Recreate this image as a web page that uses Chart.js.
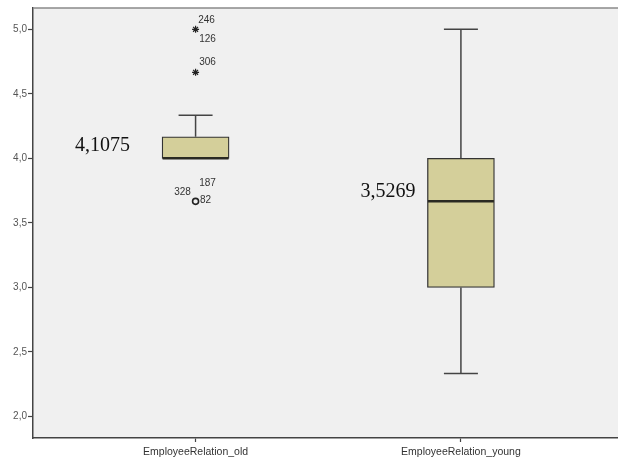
<!DOCTYPE html>
<html>
<head>
<meta charset="utf-8">
<script src="https://cdn.jsdelivr.net/npm/chart.js@4/dist/chart.umd.min.js"></script>
<style>
  html, body { margin: 0; padding: 0; background: #ffffff; }
  canvas { display: block; }
</style>
</head>
<body>
<canvas id="c" width="618" height="461"></canvas>
<script>
// Box plot summary per group
const categories   = ['EmployeeRelation_old', 'EmployeeRelation_young'];
const whiskerLow   = [4.0, 2.3333];
const q1           = [4.0, 3.0];
const median       = [4.0, 3.6667];
const q3           = [4.1667, 4.0];
const whiskerHigh  = [4.3333, 5.0];
const means        = [4.1075, 3.5269];

// Extreme values (stars) and outliers (circles) with their case numbers
const extremeCats   = [0, 0];
const extremeValues = [5.0, 4.6667];
const extremeIds    = [['246', '126'], ['306']];
const outlierCats   = [0];
const outlierValues = [3.6667];
const outlierIds    = [['187', '328', '82']];

const yTicks = [2.0, 2.5, 3.0, 3.5, 4.0, 4.5, 5.0];

const fmt = (v, d) => v.toFixed(d).replace('.', ',');

// Where the case numbers sit around their marker (pixels)
const idOffsets = {
  '246': [11, -9.5], '126': [12, 10], '306': [12, -10],
  '187': [12, -18], '328': [-13, -9], '82': [10, -1]
};
// Where the mean labels sit relative to (category, mean)
const meanOffsets = [[-93, 1], [-73, -28]];

const boxPlugin = {
  id: 'boxParts',
  beforeDraw(chart) {
    const { ctx, chartArea: a } = chart;
    ctx.save();
    ctx.fillStyle = '#ffffff';
    ctx.fillRect(0, 0, chart.width, chart.height);
    ctx.fillStyle = '#f0f0f0';
    ctx.fillRect(a.left, a.top, a.right - a.left, a.bottom - a.top);
    ctx.restore();
  },
  afterDatasetsDraw(chart) {
    const { ctx } = chart;
    const xs = chart.scales.x, ys = chart.scales.y;
    ctx.save();
    categories.forEach((c, i) => {
      const x = xs.getPixelForValue(i + 1);
      const cap = 17;
      ctx.strokeStyle = '#444444';
      ctx.lineWidth = 1.5;
      ctx.beginPath();
      // upper whisker + cap
      if (whiskerHigh[i] > q3[i]) {
        ctx.moveTo(x, ys.getPixelForValue(q3[i]));
        ctx.lineTo(x, ys.getPixelForValue(whiskerHigh[i]));
      }
      ctx.moveTo(x - cap, ys.getPixelForValue(whiskerHigh[i]));
      ctx.lineTo(x + cap, ys.getPixelForValue(whiskerHigh[i]));
      // lower whisker + cap
      if (whiskerLow[i] < q1[i]) {
        ctx.moveTo(x, ys.getPixelForValue(q1[i]));
        ctx.lineTo(x, ys.getPixelForValue(whiskerLow[i]));
        ctx.moveTo(x - cap, ys.getPixelForValue(whiskerLow[i]));
        ctx.lineTo(x + cap, ys.getPixelForValue(whiskerLow[i]));
      }
      ctx.stroke();
      // median
      ctx.strokeStyle = '#2a2a22';
      ctx.lineWidth = 2.5;
      ctx.beginPath();
      ctx.moveTo(x - 33, ys.getPixelForValue(median[i]));
      ctx.lineTo(x + 33, ys.getPixelForValue(median[i]));
      ctx.stroke();
      // mean label
      ctx.fillStyle = '#111111';
      ctx.font = '20px "Liberation Serif", "Times New Roman", serif';
      ctx.textAlign = 'center';
      ctx.textBaseline = 'middle';
      ctx.fillText(fmt(means[i], 4), x + meanOffsets[i][0], ys.getPixelForValue(means[i]) + meanOffsets[i][1]);
    });
    // case numbers
    ctx.font = '10px "Liberation Sans", Arial, sans-serif';
    ctx.fillStyle = '#333333';
    ctx.textAlign = 'center';
    ctx.textBaseline = 'middle';
    const put = (cats, vals, ids) => vals.forEach((v, k) => {
      const px = xs.getPixelForValue(cats[k] + 1), py = ys.getPixelForValue(v);
      ids[k].forEach(id => {
        const o = idOffsets[id];
        ctx.fillText(id, px + o[0], py + o[1]);
      });
    });
    put(extremeCats, extremeValues, extremeIds);
    put(outlierCats, outlierValues, outlierIds);
    ctx.restore();
  },
  afterDraw(chart) {
    const { ctx, chartArea: a } = chart;
    ctx.save();
    ctx.strokeStyle = '#8a8a8a';
    ctx.lineWidth = 1.5;
    ctx.beginPath();
    ctx.moveTo(a.left, a.top);
    ctx.lineTo(a.right, a.top);
    ctx.stroke();
    ctx.restore();
  }
};

new Chart(document.getElementById('c'), {
  data: {
    datasets: [
      {
        type: 'bar',
        data: categories.map((c, i) => ({ x: i + 1, y: [q1[i], q3[i]] })),
        backgroundColor: '#d4cf9a',
        borderColor: '#333333',
        borderWidth: 1.3,
        borderSkipped: false,
        barThickness: 67
      },
      {
        type: 'scatter',
        data: extremeValues.map((v, k) => ({ x: extremeCats[k] + 1, y: v })),
        pointStyle: 'star',
        radius: 3.5,
        borderColor: '#222222',
        borderWidth: 1.2,
        backgroundColor: '#222222'
      },
      {
        type: 'scatter',
        data: outlierValues.map((v, k) => ({ x: outlierCats[k] + 1, y: v })),
        pointStyle: 'circle',
        radius: 3,
        borderColor: '#222222',
        borderWidth: 1.6,
        backgroundColor: 'rgba(0,0,0,0)'
      }
    ]
  },
  options: {
    responsive: false,
    animation: false,
    devicePixelRatio: 1,
    layout: { autoPadding: false, padding: { top: 8, left: 0, right: 0, bottom: 0 } },
    plugins: { legend: { display: false }, tooltip: { enabled: false } },
    scales: {
      x: {
        type: 'linear',
        offset: false,
        min: 0.3873,
        max: 2.592,
        afterBuildTicks: s => { s.ticks = categories.map((c, i) => ({ value: i + 1 })); },
        afterFit: s => { s.height = 23; s.paddingLeft = 0; s.paddingRight = 0; },
        ticks: {
          autoSkip: false,
          maxRotation: 0,
          padding: 4,
          color: '#333333',
          font: { family: '"Liberation Sans", Arial, sans-serif', size: 10.5 },
          callback: v => categories[Math.round(v) - 1]
        },
        grid: { offset: false, drawOnChartArea: false, tickLength: 4, color: '#444444', tickWidth: 1.2 },
        border: { color: '#444444', width: 1.5 }
      },
      y: {
        min: 1.833,
        max: 5.165,
        afterBuildTicks: s => { s.ticks = yTicks.map(v => ({ value: v })); },
        afterFit: s => { s.width = 33; s.paddingTop = 0; s.paddingBottom = 0; },
        ticks: {
          padding: 1,
          color: '#555555',
          font: { family: '"Liberation Sans", Arial, sans-serif', size: 10 },
          callback: v => fmt(v, 1)
        },
        grid: { drawOnChartArea: false, tickLength: 5, color: '#444444', tickWidth: 1.2 },
        border: { color: '#444444', width: 1.5 }
      }
    }
  },
  plugins: [boxPlugin]
});
</script>
</body>
</html>
